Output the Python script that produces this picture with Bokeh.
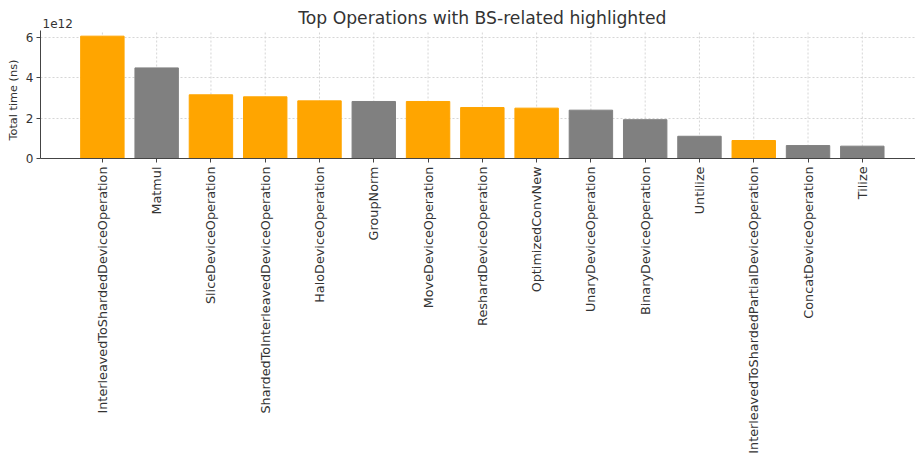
import math
from bokeh.plotting import figure
from bokeh.models import (ColumnDataSource, FixedTicker, SingleIntervalTicker,
                          CustomJSTickFormatter, Label, Range1d, Title)
from bokeh.embed import file_html
from bokeh.resources import INLINE

title_text = "Top Operations with BS-related highlighted"
y_label = "Total time (ns)"
operations = [
    "InterleavedToShardedDeviceOperation", "Matmul", "SliceDeviceOperation",
    "ShardedToInterleavedDeviceOperation", "HaloDeviceOperation", "GroupNorm",
    "MoveDeviceOperation", "ReshardDeviceOperation", "OptimizedConvNew",
    "UnaryDeviceOperation", "BinaryDeviceOperation", "Untilize",
    "InterleavedToShardedPartialDeviceOperation", "ConcatDeviceOperation", "Tilize",
]
total_time_ns = [
    6.05e12, 4.48e12, 3.15e12, 3.05e12, 2.85e12, 2.82e12, 2.82e12, 2.52e12,
    2.49e12, 2.39e12, 1.92e12, 1.10e12, 0.89e12, 0.64e12, 0.61e12,
]
bs_related = [True, False, True, True, True, False, True, True,
              True, False, False, False, True, False, False]

ORANGE = "#FFA500"
GRAY = "#808080"
FONT = "DejaVu Sans"

# axis extents (matplotlib-like autoscale); the frame is extended upward to host the title texts
X0, X1 = -1.14, 14.98
Y_AXIS_TOP = 6.33e12
AXIS_PX = 128
FRAME_H = 158
Y_FRAME_TOP = Y_AXIS_TOP * FRAME_H / AXIS_PX

idx = list(range(len(operations)))
colors = [ORANGE if b else GRAY for b in bs_related]
src = ColumnDataSource(dict(x=idx, top=total_time_ns, color=colors, name=operations))

p = figure(frame_width=875, frame_height=FRAME_H, output_backend="svg", toolbar_location=None,
           x_range=Range1d(X0, X1), y_range=Range1d(0, Y_FRAME_TOP),
           min_border_left=40, min_border_right=0, min_border_top=0, min_border_bottom=0)

p.outline_line_color = None
p.background_fill_color = "white"

# vertical grid lines, only up to the axis top
p.xgrid.visible = False
p.segment(x0=idx, y0=[0] * len(idx), x1=idx, y1=[Y_AXIS_TOP] * len(idx),
          line_color="#cccccc", line_dash="2 2", line_width=1, line_alpha=0.8)

p.vbar(x="x", top="top", width=0.8, color="color", source=src)

xa = p.xaxis[0]
xa.ticker = FixedTicker(ticks=idx)
xa.major_label_overrides = {i: n for i, n in enumerate(operations)}
xa.major_label_orientation = math.pi / 2
xa.major_label_text_font = FONT
xa.major_label_text_font_size = "12.8px"
xa.major_label_text_color = "#333333"
xa.major_label_standoff = 4
xa.minor_tick_line_color = None
xa.major_tick_in = 0
xa.major_tick_out = 4
xa.axis_line_color = "#444444"
xa.major_tick_line_color = "#444444"

ya = p.yaxis[0]
ya.bounds = (0, Y_AXIS_TOP)
ya.ticker = SingleIntervalTicker(interval=2e12, num_minor_ticks=0)
ya.formatter = CustomJSTickFormatter(code="return (tick/1e12).toFixed(0);")
ya.major_label_text_font = FONT
ya.major_label_text_font_size = "12px"
ya.major_label_text_color = "#333333"
ya.major_label_standoff = 3
ya.minor_tick_line_color = None
ya.major_tick_in = 0
ya.major_tick_out = 4
ya.axis_line_color = "#444444"
ya.major_tick_line_color = "#444444"

# y axis label, placed along the axis extent rather than the extended frame
p.add_layout(Title(text=y_label, align="left", offset=18, standoff=5,
                   text_font=FONT, text_font_size="11.3px", text_font_style="normal",
                   text_color="#333333"), "left")

g = p.ygrid[0]
g.grid_line_color = "#cccccc"
g.grid_line_dash = "2 2"
g.grid_line_width = 1
g.grid_line_alpha = 0.8

# title, centred on the (uncropped) axes
p.add_layout(Label(x=(X0 + 15.14) / 2, y=Y_FRAME_TOP, text=title_text,
                   text_baseline="top", text_align="center", y_offset=-7,
                   text_font=FONT, text_font_size="17.2px", text_color="#333333"))

# offset text of the y axis
p.add_layout(Label(x=X0, y=Y_AXIS_TOP, text="1e12", x_offset=2, y_offset=7,
                   text_baseline="alphabetic", text_align="left",
                   text_font=FONT, text_font_size="12px", text_color="#333333"))

open("out.html", "w").write(file_html(p, INLINE))
